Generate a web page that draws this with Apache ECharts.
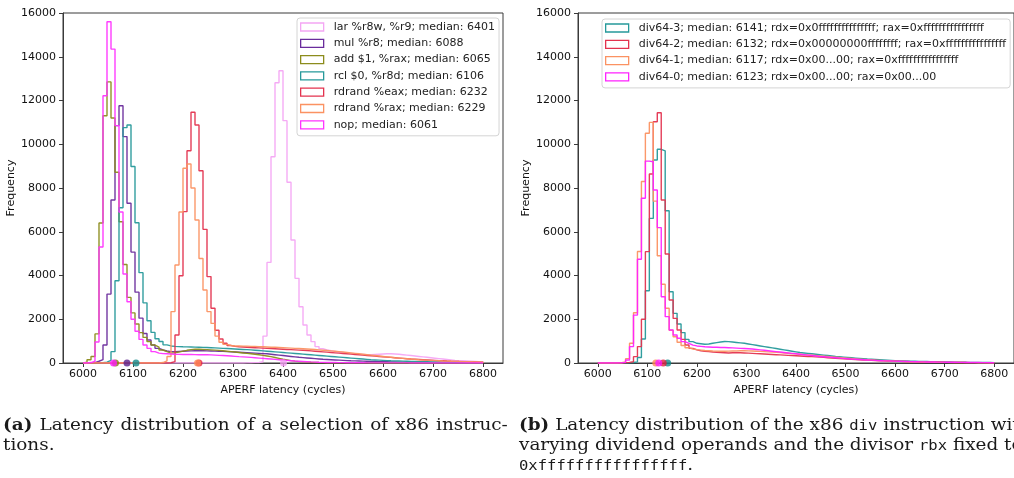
<!DOCTYPE html>
<html>
<head>
<meta charset="utf-8">
<script src="https://cdn.jsdelivr.net/npm/echarts@6/dist/echarts.min.js"></script>
<style>
  html, body { margin: 0; padding: 0; background: #fff; overflow: hidden; }
  #page { position: relative; width: 1014px; height: 478px; overflow: hidden; }
  #chart { position: absolute; left: 0; top: 0; width: 1014px; height: 478px; }
  .caption {
    position: absolute; top: 415px;
    font-family: "DejaVu Serif", serif; font-size: 16px; line-height: 20px; color: #1a1a1a;
    transform: scaleX(1.15); transform-origin: 0 0;
  }
  .caption .ln { text-align: justify; text-align-last: justify; }
  .caption .ln.last { text-align-last: left; }
  .caption .ln.free { white-space: nowrap; text-align-last: left; }
  .caption code { font-family: "DejaVu Sans Mono", monospace; font-size: 13.5px; }
</style>
</head>
<body>
<div id="page">
  <div id="chart"></div>
  <div class="caption" style="left:3px; width:439px;">
    <div class="ln"><b>(a)</b> Latency distribution of a selection of x86 instruc-</div>
    <div class="ln last">tions.</div>
  </div>
  <div class="caption" style="left:519px; width:441px;">
    <div class="ln free"><b>(b)</b> Latency distribution of the x86 <code>div</code> instruction with</div>
    <div class="ln free">varying dividend operands and the divisor <code>rbx</code> fixed to</div>
    <div class="ln free"><code>0xffffffffffffffff</code>.</div>
  </div>
</div>
<script>
// histogram bins: 100 bins of 8 cycles starting at 6000
const BIN_START = 6000;
const BIN_WIDTH = 8;
const xTicks = [6000, 6100, 6200, 6300, 6400, 6500, 6600, 6700, 6800];

// ---- left panel (a) ----
const leftLabels = ["lar %r8w, %r9", "mul %r8", "add $1, %rax", "rcl $0, %r8d", "rdrand %eax", "rdrand %rax", "nop"];
const leftMedians = [6401, 6088, 6065, 6106, 6232, 6229, 6061];

const larCounts = [
  0, 0, 0, 0, 0, 0, 0, 0, 0, 0,
  0, 0, 0, 0, 0, 0, 0, 0, 0, 0,
  0, 0, 0, 0, 0, 0, 0, 0, 0, 0,
  0, 0, 0, 0, 0, 0, 0, 0, 0, 0,
  5, 10, 15, 25, 60, 1230, 4600, 9430, 12810, 13360,
  11080, 8260, 5620, 3870, 2570, 1740, 1280, 975, 750, 650,
  600, 560, 530, 500, 480, 460, 440, 420, 400, 390,
  380, 380, 390, 400, 410, 420, 420, 410, 400, 380,
  360, 340, 320, 300, 280, 260, 240, 220, 200, 180,
  160, 140, 120, 110, 100, 90, 80, 70, 60, 50
];
const mulCounts = [
  0, 0, 20, 80, 150, 820, 3150, 7450, 10850, 11760,
  10350, 7300, 5070, 3240, 2050, 1350, 1050, 820, 670, 595,
  550, 520, 520, 530, 540, 550, 555, 560, 560, 560,
  555, 550, 545, 540, 530, 520, 510, 500, 490, 480,
  470, 460, 450, 440, 430, 420, 400, 380, 360, 340,
  320, 300, 280, 260, 245, 230, 215, 200, 185, 170,
  160, 150, 140, 130, 120, 110, 100, 95, 90, 85,
  80, 75, 70, 65, 60, 55, 50, 45, 40, 38,
  35, 32, 30, 28, 26, 24, 22, 20, 18, 16,
  15, 14, 13, 12, 11, 10, 9, 8, 7, 6
];
const addCounts = [
  40, 150, 300, 1330, 6400, 11300, 12850, 11200, 8720, 6460,
  4500, 3000, 2290, 1780, 1390, 1170, 975, 820, 730, 595,
  520, 450, 470, 500, 540, 580, 610, 630, 630, 620,
  610, 600, 590, 575, 560, 540, 520, 500, 480, 460,
  440, 420, 400, 380, 350, 320, 290, 250, 210, 170,
  140, 110, 85, 65, 50, 40, 32, 26, 21, 17,
  14, 12, 10, 8, 7, 6, 5, 5, 4, 4,
  4, 3, 3, 3, 3, 2, 2, 2, 2, 2,
  2, 1, 1, 1, 1, 1, 1, 1, 1, 0,
  0, 0, 0, 0, 0, 0, 0, 0, 0, 0
];
const rclCounts = [
  0, 0, 0, 0, 10, 40, 120, 520, 3760, 7100,
  10760, 10880, 8980, 6410, 4130, 2750, 1930, 1400, 1110, 980,
  830, 780, 760, 750, 740, 735, 730, 725, 720, 715,
  710, 700, 690, 680, 670, 660, 650, 640, 630, 620,
  610, 600, 585, 570, 555, 540, 525, 510, 495, 480,
  465, 450, 435, 420, 405, 390, 375, 360, 345, 330,
  315, 300, 285, 270, 255, 240, 225, 210, 195, 180,
  165, 150, 140, 130, 120, 110, 100, 95, 90, 85,
  80, 75, 70, 65, 60, 56, 52, 48, 44, 40,
  37, 34, 31, 28, 25, 22, 20, 18, 16, 14
];
const rdrandEaxCounts = [
  0, 0, 0, 0, 0, 0, 0, 0, 0, 0,
  0, 0, 0, 0, 0, 0, 0, 0, 0, 0,
  0, 10, 60, 1280, 3990, 6920, 9700, 11460, 10880, 8790,
  6110, 3950, 2500, 1500, 1100, 900, 800, 760, 740, 730,
  720, 710, 700, 690, 680, 670, 660, 650, 640, 630,
  620, 610, 600, 590, 580, 570, 555, 540, 525, 510,
  495, 480, 465, 450, 435, 420, 405, 390, 375, 360,
  345, 330, 315, 300, 285, 270, 255, 240, 225, 210,
  195, 180, 170, 160, 150, 140, 130, 120, 110, 100,
  90, 82, 75, 68, 62, 56, 50, 45, 40, 36
];
const rdrandRaxCounts = [
  0, 0, 0, 0, 0, 0, 0, 0, 0, 0,
  0, 0, 0, 0, 0, 0, 0, 0, 0, 20,
  100, 300, 2350, 4480, 6900, 8900, 9100, 8000, 6540, 4780,
  3340, 2350, 1810, 1230, 950, 850, 800, 780, 780, 770,
  770, 760, 760, 750, 740, 730, 720, 720, 710, 700,
  690, 680, 670, 660, 650, 640, 630, 615, 600, 585,
  570, 555, 540, 520, 500, 480, 460, 440, 420, 400,
  380, 360, 340, 320, 300, 280, 260, 240, 225, 210,
  195, 180, 165, 150, 140, 130, 120, 110, 100, 90,
  85, 80, 75, 70, 65, 60, 55, 50, 45, 40
];
const nopCounts = [
  0, 20, 80, 960, 5300, 12220, 15600, 14350, 10850, 6900,
  4070, 2800, 2000, 1450, 1080, 820, 670, 520, 450, 430,
  420, 410, 400, 395, 390, 390, 390, 385, 380, 380,
  375, 370, 360, 350, 340, 330, 320, 305, 290, 280,
  270, 255, 240, 225, 210, 195, 180, 165, 150, 135,
  120, 105, 90, 80, 70, 60, 50, 42, 35, 30,
  25, 22, 20, 18, 16, 14, 12, 11, 10, 9,
  8, 7, 7, 6, 6, 5, 5, 5, 4, 4,
  4, 3, 3, 3, 3, 2, 2, 2, 2, 2,
  2, 1, 1, 1, 1, 1, 1, 1, 1, 1
];
const leftCounts = [larCounts, mulCounts, addCounts, rclCounts, rdrandEaxCounts, rdrandRaxCounts, nopCounts];
const leftColors = ["#f4a6f4", "#6a2c9c", "#8c8c1c", "#26999a", "#e3334f", "#fb9262", "#ff33ff"];
const leftDotColors = ["#f39cf3", "#5a1f8a", "#7f7f10", "#138a8a", "#e8203c", "#ff8a55", "#ff1cff"];

// ---- right panel (b) ----
const rightLabels = ["div64-3", "div64-2", "div64-1", "div64-0"];
const rightMedians = [6141, 6132, 6117, 6123];
const rightOperands = [
  "rdx=0x0fffffffffffffff; rax=0xffffffffffffffff",
  "rdx=0x00000000ffffffff; rax=0xffffffffffffffff",
  "rdx=0x00...00; rax=0xffffffffffffffff",
  "rdx=0x00...00; rax=0x00...00"
];

const div3Counts = [
  0, 0, 0, 0, 0, 0, 0, 10, 20, 50,
  250, 1100, 3300, 6610, 9280, 9770, 9700, 6960, 3260, 2270,
  1780, 1390, 1080, 975, 900, 880, 860, 870, 900, 930,
  960, 980, 975, 960, 940, 920, 900, 870, 840, 810,
  780, 750, 720, 690, 660, 630, 600, 570, 540, 510,
  480, 460, 440, 420, 400, 380, 360, 340, 320, 300,
  285, 270, 255, 240, 225, 210, 195, 180, 170, 160,
  150, 140, 130, 120, 110, 100, 95, 90, 85, 80,
  75, 70, 66, 62, 58, 54, 50, 47, 44, 41,
  38, 35, 32, 30, 28, 26, 24, 22, 20, 18
];
const div2Counts = [
  0, 0, 0, 0, 0, 0, 10, 30, 60, 290,
  750, 2000, 5090, 8640, 11030, 11440, 7450, 4980, 2880, 2040,
  1510, 1080, 820, 670, 600, 560, 540, 520, 500, 490,
  480, 470, 460, 470, 480, 470, 460, 450, 440, 430,
  420, 410, 400, 390, 380, 370, 360, 350, 340, 330,
  320, 310, 300, 290, 280, 270, 255, 240, 225, 210,
  200, 190, 180, 170, 160, 150, 140, 130, 120, 112,
  104, 96, 90, 84, 78, 72, 66, 60, 55, 50,
  46, 42, 40, 38, 36, 34, 32, 30, 28, 26,
  24, 22, 20, 18, 17, 16, 15, 14, 13, 12
];
const div1Counts = [
  0, 0, 0, 0, 0, 10, 50, 200, 900, 2300,
  5100, 8300, 10500, 11000, 7400, 4900, 3600, 2500, 1500, 1200,
  950, 800, 700, 640, 610, 590, 570, 560, 550, 545,
  540, 540, 545, 550, 555, 560, 560, 555, 550, 540,
  530, 520, 510, 500, 490, 475, 460, 445, 430, 415,
  400, 385, 370, 355, 340, 325, 310, 295, 280, 265,
  250, 235, 220, 205, 190, 178, 166, 154, 142, 130,
  120, 110, 100, 92, 85, 78, 72, 66, 60, 55,
  50, 46, 42, 39, 36, 33, 30, 28, 26, 24,
  22, 20, 18, 16, 15, 14, 13, 12, 11, 10
];
const div0Counts = [
  0, 0, 0, 0, 0, 10, 30, 140, 750, 2190,
  4740, 7530, 9230, 9200, 7910, 6190, 3030, 2120, 1510, 1280,
  1130, 975, 900, 820, 780, 760, 740, 730, 720, 720,
  710, 710, 700, 690, 680, 670, 660, 650, 640, 620,
  600, 580, 560, 540, 520, 500, 480, 460, 440, 420,
  400, 380, 360, 340, 320, 300, 285, 270, 255, 240,
  225, 210, 195, 180, 170, 160, 150, 140, 130, 120,
  110, 100, 95, 90, 85, 80, 75, 70, 65, 60,
  55, 52, 49, 46, 43, 40, 38, 36, 34, 32,
  30, 28, 26, 24, 22, 20, 18, 16, 14, 12
];
const rightCounts = [div3Counts, div2Counts, div1Counts, div0Counts];
const rightColors = ["#26999a", "#e3334f", "#fb9262", "#ff22ff"];
const rightDotColors = ["#138a8a", "#e0203c", "#ff8a55", "#ff1cff"];

const FONT = "DejaVu Sans";
const FS = 11;
const TEXT = "#111";
const FRAME = "#3a3a3a";

// outline of a step histogram (matplotlib histtype='step')
function histOutline(counts) {
  const pts = [];
  counts.forEach(function (c, i) {
    const lo = BIN_START + i * BIN_WIDTH;
    pts.push([lo, i === 0 ? 0 : counts[i - 1]]);
    pts.push([lo, c]);
  });
  const end = BIN_START + counts.length * BIN_WIDTH;
  pts.push([end, counts[counts.length - 1]]);
  pts.push([end, 0]);
  return pts;
}

function makeXAxis(gridIndex) {
  return {
    type: "value", gridIndex: gridIndex, min: 5960, max: 6840,
    name: "APERF latency (cycles)", nameLocation: "middle", nameGap: 19,
    nameTextStyle: { fontFamily: FONT, fontSize: FS, color: TEXT },
    axisLine: { show: true, onZero: false, lineStyle: { color: FRAME, width: 1 } },
    axisTick: { show: true, length: 4, customValues: xTicks, lineStyle: { color: FRAME } },
    axisLabel: { customValues: xTicks, margin: 6, fontFamily: FONT, fontSize: FS, color: TEXT,
      formatter: function (v) { return String(v); } },
    splitLine: { show: false },
  };
}

function makeYAxis(gridIndex) {
  return {
    type: "value", gridIndex: gridIndex, min: 0, max: 16000, interval: 2000,
    name: "Frequency", nameLocation: "middle", nameGap: 38, nameRotate: 90,
    nameTextStyle: { fontFamily: FONT, fontSize: FS, color: TEXT },
    axisLine: { show: true, lineStyle: { color: FRAME, width: 1 } },
    axisTick: { show: true, length: 4, lineStyle: { color: FRAME } },
    axisLabel: { margin: 7, fontFamily: FONT, fontSize: FS, color: TEXT,
      formatter: function (v) { return String(v); } },
    splitLine: { show: false },
  };
}

function makeLegend(names, colors, left, top) {
  return {
    orient: "vertical", left: left, top: top, padding: [3, 4, 5, 3],
    itemWidth: 23, itemHeight: 8, itemGap: 4.3, selectedMode: false,
    backgroundColor: "#fff", borderColor: "#d4d4d4", borderWidth: 1, borderRadius: 3,
    textStyle: { fontFamily: FONT, fontSize: FS, color: "#222", lineHeight: 12, padding: [0, 0, 0, 5] },
    data: names.map(function (n, i) {
      return { name: n, icon: "rect", itemStyle: { color: "#fff", borderColor: colors[i], borderWidth: 1.3 } };
    }),
  };
}

function histSeries(names, counts, colors, axisIndex) {
  return names.map(function (n, i) {
    return {
      type: "line", name: n, xAxisIndex: axisIndex, yAxisIndex: axisIndex,
      data: histOutline(counts[i]), symbol: "none", z: 2 + i,
      lineStyle: { color: colors[i], width: 1.4, opacity: 0.95 },
      itemStyle: { color: colors[i] },
    };
  });
}

function medianSeries(medians, colors, axisIndex) {
  return {
    type: "scatter", name: "median" + axisIndex, xAxisIndex: axisIndex, yAxisIndex: axisIndex,
    symbolSize: 7, clip: false, z: 20,
    data: medians.map(function (m, i) {
      return { value: [m, 0], itemStyle: { color: colors[i] } };
    }),
  };
}

const leftNames = leftLabels.map(function (l, i) { return l + "; median: " + leftMedians[i]; });
const rightNames = rightLabels.map(function (l, i) {
  return l + "; median: " + rightMedians[i] + "; " + rightOperands[i];
});

const chart = echarts.init(document.getElementById("chart"));
chart.setOption({
  animation: false,
  backgroundColor: "#fff",
  grid: [
    { left: 63, top: 13, width: 440, height: 350, show: true, borderColor: FRAME, borderWidth: 1 },
    { left: 578, top: 13, width: 440, height: 350, show: true, borderColor: FRAME, borderWidth: 1 },
  ],
  xAxis: [makeXAxis(0), makeXAxis(1)],
  yAxis: [makeYAxis(0), makeYAxis(1)],
  legend: [
    makeLegend(leftNames, leftColors, 297, 18),
    makeLegend(rightNames, rightColors, 602, 19),
  ],
  series: []
    .concat(histSeries(leftNames, leftCounts, leftColors, 0))
    .concat(histSeries(rightNames, rightCounts, rightColors, 1))
    .concat([medianSeries(leftMedians, leftDotColors, 0), medianSeries(rightMedians, rightDotColors, 1)]),
});
</script>
</body>
</html>
